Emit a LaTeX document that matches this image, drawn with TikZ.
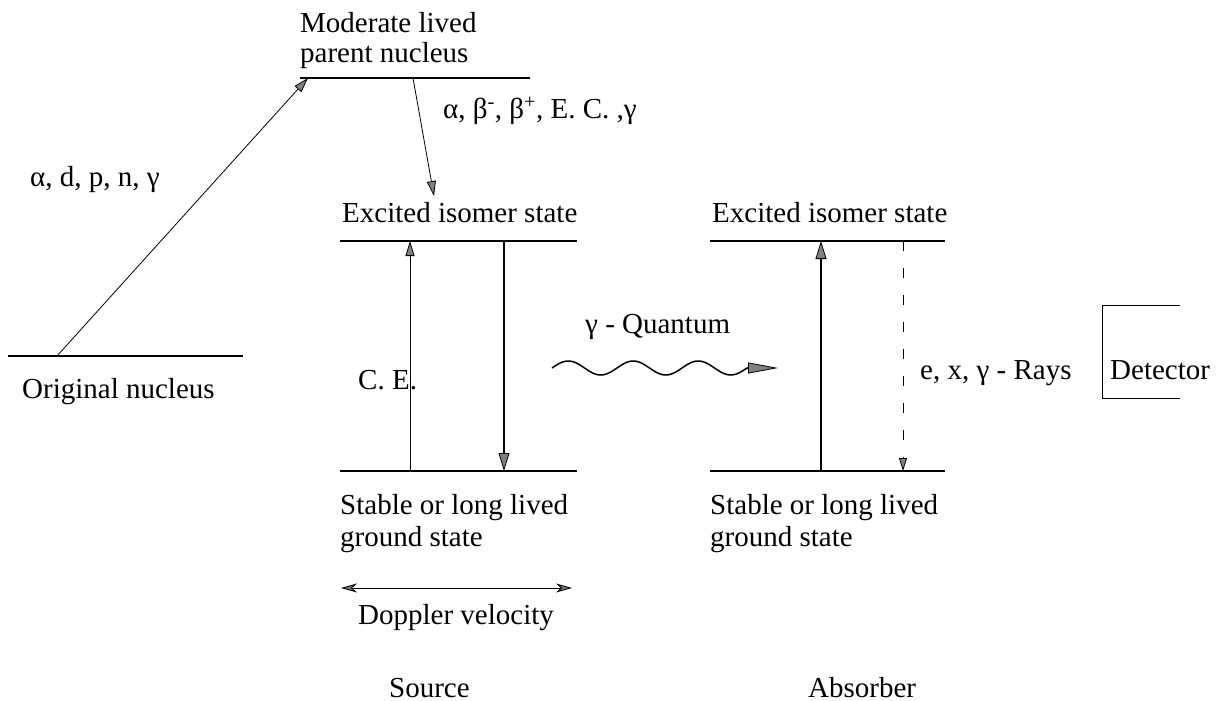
\documentclass[tikz,border=0pt]{standalone}
\usepackage{fontspec}
\setmainfont{Liberation Serif}
\usetikzlibrary{arrows.meta}
\begin{document}
\begin{tikzpicture}[x=1pt,y=-1pt,
  lbl/.style={anchor=base west,inner sep=0pt,font=\fontsize{29}{34}\selectfont},
  level/.style={line width=1.3pt},
  thin arrow/.style={line width=0.8pt,-{Triangle[length=15pt,width=9pt,fill=gray,line width=0.8pt]}},
  thick arrow/.style={line width=2.2pt,-{Triangle[length=18pt,width=11pt,fill=gray,line width=0.8pt]}},
  dash arrow/.style={line width=1pt,dash pattern=on 10pt off 17pt,-{Triangle[length=13pt,width=8pt,fill=gray,line width=0.8pt]}}]
\useasboundingbox (0,0) rectangle (1221,701);
% level lines
\coordinate (onL) at (8,356);   \coordinate (onR) at (243,356);
\coordinate (mpL) at (300,78);  \coordinate (mpR) at (530,78);
\coordinate (seL) at (340,241); \coordinate (seR) at (577,241);
\coordinate (sgL) at (340,471); \coordinate (sgR) at (577,471);
\coordinate (aeL) at (710,241); \coordinate (aeR) at (945,241);
\coordinate (agL) at (710,471); \coordinate (agR) at (945,471);
\draw[level] (onL) -- (onR);
\draw[level] (mpL) -- (mpR);
\draw[level] (seL) -- (seR);
\draw[level] (sgL) -- (sgR);
\draw[level] (aeL) -- (aeR);
\draw[level] (agL) -- (agR);
% texts
\node[lbl] (t1) at (300,33) {Moderate lived};
\node[lbl] (t2) at (300,63) {parent nucleus};
\node[lbl] (t3) at (22,398) {Original nucleus};
\node[lbl] (t4) at (30,186) {α, d, p, n, γ};
\node[lbl] (t5) at (443,118) {α, β\textsuperscript{-}, β\textsuperscript{+}, E. C. ,γ};
\node[lbl] (t6) at (342,222) {Excited isomer state};
\node[lbl] (t7) at (340,514) {Stable or long lived};
\node[lbl] (t8) at (340,546) {ground state};
\node[lbl] (t9) at (358,389) {C. E.};
\node[lbl] (t10) at (585,333) {γ - Quantum};
\node[lbl] (t11) at (712,222) {Excited isomer state};
\node[lbl] (t12) at (710,514) {Stable or long lived};
\node[lbl] (t13) at (710,546) {ground state};
\node[lbl] (t14) at (920,379) {e, x, γ - Rays};
\node[lbl] (t15) at (1110,379) {Detector};
\node[lbl] (t16) at (358,624) {Doppler velocity};
\node[lbl] (t17) at (389,697) {Source};
\node[lbl] (t18) at (808,697) {Absorber};
% transitions
\coordinate (a1s) at (57,356);  \coordinate (a1e) at (308,78);
\draw[thin arrow] (a1s) -- (a1e);
\coordinate (a2s) at (413,78);  \coordinate (a2e) at (434,196);
\draw[thin arrow] (a2s) -- (a2e);
\coordinate (a3s) at (410,471); \coordinate (a3e) at (410,241);
\draw[thin arrow] (a3s) -- (a3e);
\coordinate (a4s) at (504,241); \coordinate (a4e) at (504,471);
\draw[thick arrow] (a4s) -- (a4e);
\coordinate (a5s) at (821,471); \coordinate (a5e) at (821,241);
\draw[thick arrow] (a5s) -- (a5e);
\coordinate (a6s) at (903,241); \coordinate (a6e) at (903,471);
\draw[dash arrow] (a6s) -- (a6e);
% gamma wave
\coordinate (ws) at (552,368); \coordinate (we) at (778,368);
\draw[line width=1.5pt] (ws) plot[domain=0:195,samples=150,smooth] ({552+\x},{368-7*sin(5.53846*\x)});
\draw[line width=1.5pt,-{Triangle[length=30pt,width=11pt,fill=gray,line width=0.8pt]}] (747,368) -- (we);
% doppler
\coordinate (d1) at (341,588); \coordinate (d2) at (572,588);
\draw[line width=0.9pt,{Stealth[length=16pt,width=9pt,inset=5pt,fill=gray]}-{Stealth[length=16pt,width=9pt,inset=5pt,fill=gray]}] (d1) -- (d2);
% detector bracket
\coordinate (b1) at (1180,305); \coordinate (b2) at (1102,305);
\coordinate (b3) at (1102,398); \coordinate (b4) at (1180,398);
\draw[line width=1pt] (b1) -- (b2) -- (b3) -- (b4);
\end{tikzpicture}
\end{document}
